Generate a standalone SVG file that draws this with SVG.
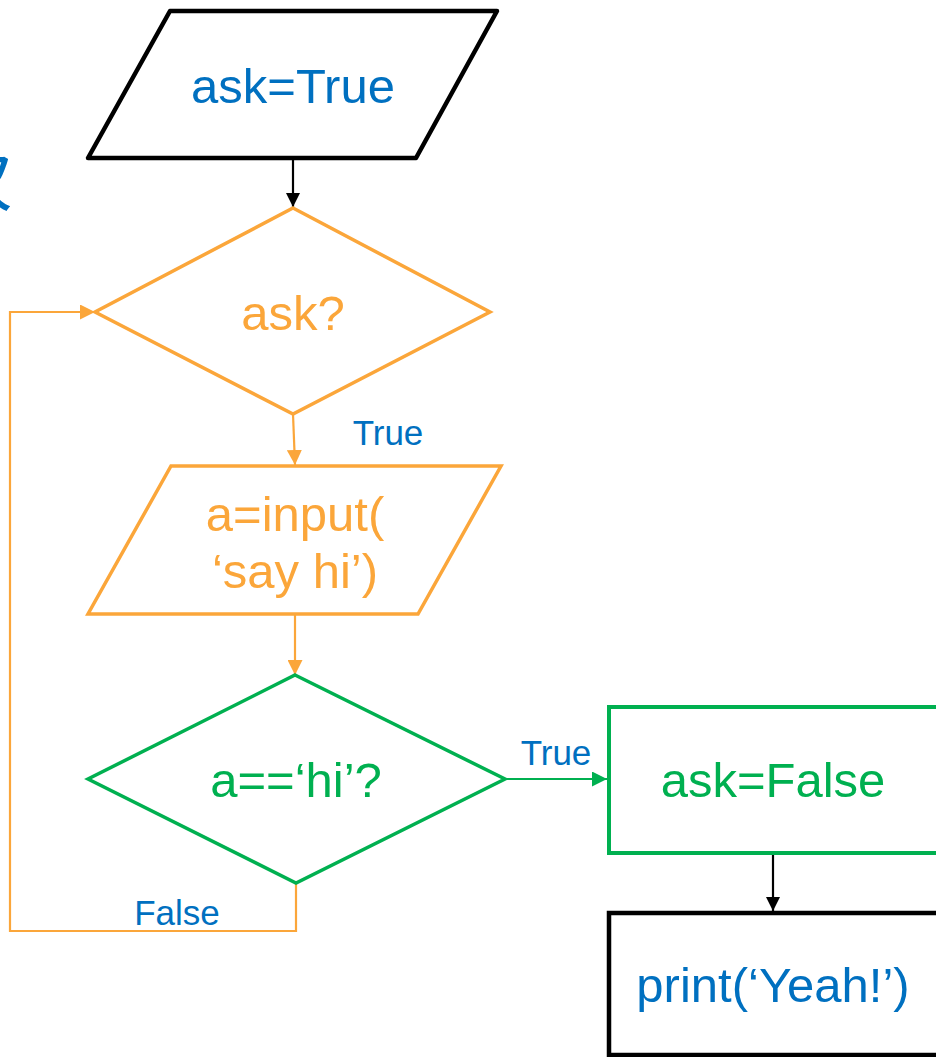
<svg xmlns="http://www.w3.org/2000/svg" width="936" height="1057" viewBox="0 0 936 1057">
<style>
text{font-family:"Liberation Sans",Arial,sans-serif;text-anchor:middle}
.main{font-size:49px}
.lbl{font-size:35px;fill:#0070C0}
.blue{fill:#0070C0}
.org{fill:#FBA63A}
.grn{fill:#00B050}
.c{fill:none;stroke-width:2.2}
</style>
<defs>
<marker id="ab" viewBox="0 0 10 10" refX="10" refY="5" markerWidth="14" markerHeight="14" markerUnits="userSpaceOnUse" orient="auto"><path d="M0,0 L10,5 L0,10 Z" fill="#000"/></marker>
<marker id="ao" viewBox="0 0 10 10" refX="10" refY="5" markerWidth="15" markerHeight="15" markerUnits="userSpaceOnUse" orient="auto"><path d="M0,0 L10,5 L0,10 Z" fill="#FBA63A"/></marker>
<marker id="ag" viewBox="0 0 10 10" refX="10" refY="5" markerWidth="15" markerHeight="15" markerUnits="userSpaceOnUse" orient="auto"><path d="M0,0 L10,5 L0,10 Z" fill="#00B050"/></marker>
</defs>
<rect width="936" height="1057" fill="#fff"/>
<text x="13" y="205" style="font-family:'Noto Sans CJK SC',sans-serif;font-size:72px;text-anchor:end" class="blue">次</text>
<g id="connectors">
<path class="c" stroke="#000" d="M293,158 V207" marker-end="url(#ab)"/>
<path class="c" stroke="#FBA63A" d="M293,414 L295,465" marker-end="url(#ao)"/>
<path class="c" stroke="#FBA63A" d="M295,614 V675" marker-end="url(#ao)"/>
<path class="c" stroke="#00B050" d="M505,779 H607" marker-end="url(#ag)"/>
<path class="c" stroke="#000" d="M773,853 V911" marker-end="url(#ab)"/>
<path class="c" stroke="#FBA63A" stroke-width="2.5" d="M296,883 V931 H10 V312 H95" marker-end="url(#ao)"/>
<text class="lbl" x="388" y="445">True</text>
<text class="lbl" x="556" y="765">True</text>
<text class="lbl" x="177" y="925">False</text>
</g>
<g id="start">
<polygon points="170,11 497,11 416,158 88,158" fill="#fff" stroke="#000" stroke-width="4.5" stroke-linejoin="round"/>
<text class="main blue" x="293" y="103">ask=True</text>
</g>
<g id="ask">
<polygon points="293,208 490,312 293,414 95,312" fill="#fff" stroke="#FBA63A" stroke-width="3.5"/>
<text class="main org" x="293" y="330">ask?</text>
</g>
<g id="input">
<polygon points="171,466 501,466 418,614 88,614" fill="#fff" stroke="#FBA63A" stroke-width="3.5"/>
<text class="main org" x="295" y="531">a=input(</text>
<text class="main org" x="295" y="588">‘say hi’)</text>
</g>
<g id="check">
<polygon points="295,675 505,779 296,883 88,779" fill="#fff" stroke="#00B050" stroke-width="3.5"/>
<text class="main grn" x="296" y="797">a==‘hi’?</text>
</g>
<g id="setfalse">
<rect x="609" y="707" width="340" height="146" fill="#fff" stroke="#00B050" stroke-width="4"/>
<text class="main grn" x="773" y="797">ask=False</text>
</g>
<g id="print">
<rect x="609" y="913" width="340" height="142" fill="#fff" stroke="#000" stroke-width="4.5"/>
<text class="main blue" x="773" y="1002">print(‘Yeah!’)</text>
</g>
</svg>
